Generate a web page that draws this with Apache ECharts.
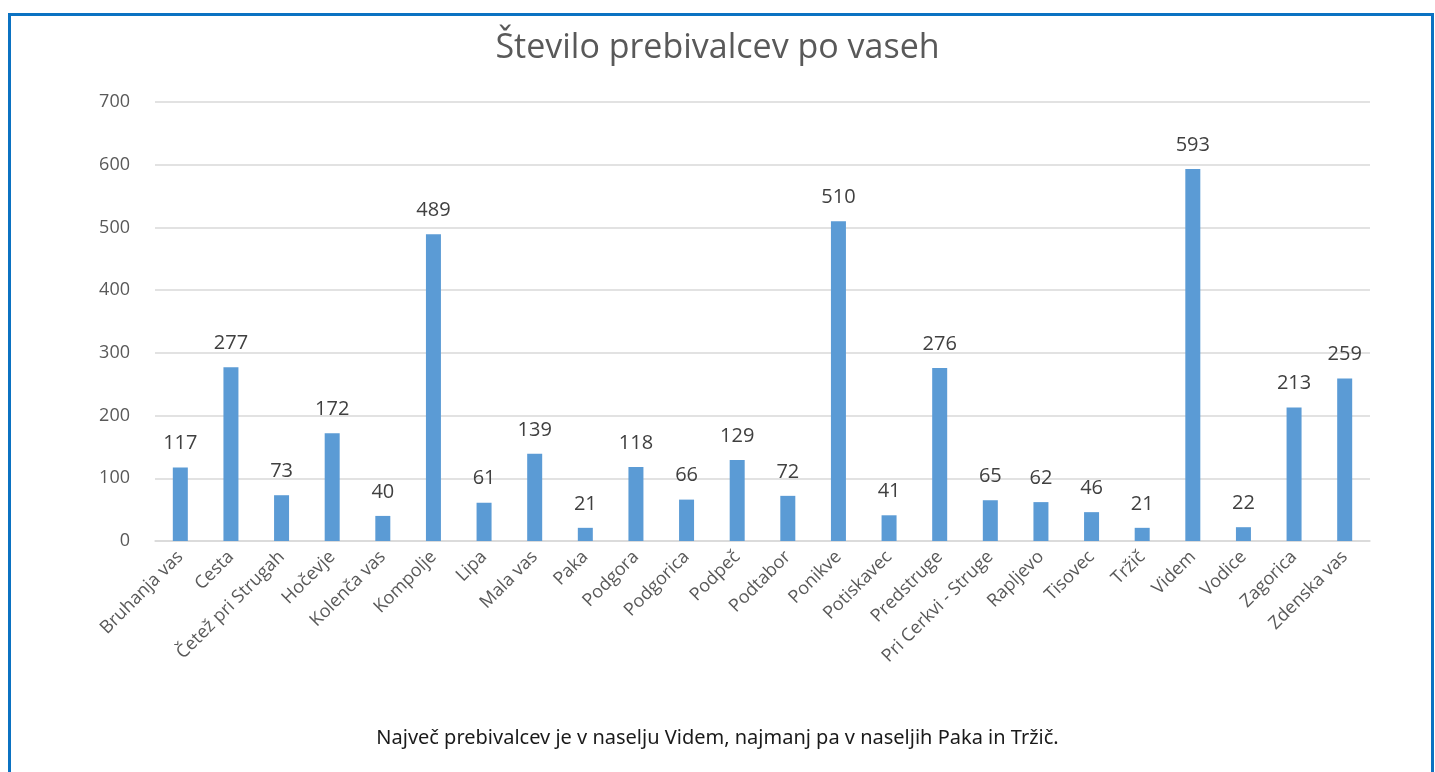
<!DOCTYPE html>
<html>
<head>
<meta charset="utf-8">
<script src="https://cdn.jsdelivr.net/npm/echarts@6/dist/echarts.min.js"></script>
<style>
  html, body { margin: 0; padding: 0; background: #fff; }
  #chart { width: 1435px; height: 772px; }
</style>
</head>
<body>
<div id="chart"></div>
<script>
// podatki
const vasi = ['Bruhanja vas', 'Cesta', 'Četež pri Strugah', 'Hočevje', 'Kolenča vas', 'Kompolje',
  'Lipa', 'Mala vas', 'Paka', 'Podgora', 'Podgorica', 'Podpeč', 'Podtabor', 'Ponikve',
  'Potiskavec', 'Predstruge', 'Pri Cerkvi - Struge', 'Rapljevo', 'Tisovec', 'Tržič',
  'Videm', 'Vodice', 'Zagorica', 'Zdenska vas'];
const prebivalci = [117, 277, 73, 172, 40, 489, 61, 139, 21, 118, 66, 129, 72, 510,
  41, 276, 65, 62, 46, 21, 593, 22, 213, 259];
const yTicks = [0, 100, 200, 300, 400, 500, 600, 700];

const chart = echarts.init(document.getElementById('chart'));
const option = {
  backgroundColor: '#fff',
  animation: false,
  title: [
    {
      text: 'Število prebivalcev po vaseh',
      left: 'center',
      top: 26,
      textStyle: { fontFamily: 'Open Sans', fontSize: 34, fontWeight: 'normal', color: '#595959' }
    },
    {
      text: 'Največ prebivalcev je v naselju Videm, najmanj pa v naseljih Paka in Tržič.',
      left: 'center',
      top: 723,
      textStyle: { fontFamily: 'Noto Sans', fontSize: 20, fontWeight: 'normal', color: '#1a1a1a' }
    }
  ],
  graphic: [
    {
      type: 'rect',
      shape: { x: 9.5, y: 14.5, width: 1423, height: 800 },
      style: { fill: 'none', stroke: '#0b72c2', lineWidth: 3 },
      silent: true
    }
  ],
  grid: { left: 155, right: 65, top: 102, bottom: 231 },
  xAxis: {
    type: 'category',
    data: vasi,
    axisLine: { lineStyle: { color: '#d9d9d9', width: 1.5 } },
    axisTick: { show: false },
    axisLabel: {
      rotate: 45,
      interval: 0,
      margin: 13,
      fontFamily: 'Open Sans',
      fontSize: 18,
      color: '#595959'
    }
  },
  yAxis: {
    type: 'value',
    min: yTicks[0],
    max: yTicks[yTicks.length - 1],
    interval: 100,
    axisLine: { show: false },
    axisTick: { show: false },
    splitLine: { lineStyle: { color: '#d9d9d9', width: 1.5 } },
    axisLabel: { margin: 25, fontFamily: 'Open Sans', fontSize: 18, color: '#595959' }
  },
  series: [
    {
      type: 'bar',
      data: prebivalci,
      barWidth: 15,
      itemStyle: { color: '#5b9bd5' },
      label: {
        show: true,
        position: 'top',
        distance: 14,
        fontFamily: 'Open Sans',
        fontSize: 20,
        color: '#404040'
      }
    }
  ]
};
chart.setOption(option);
</script>
</body>
</html>
